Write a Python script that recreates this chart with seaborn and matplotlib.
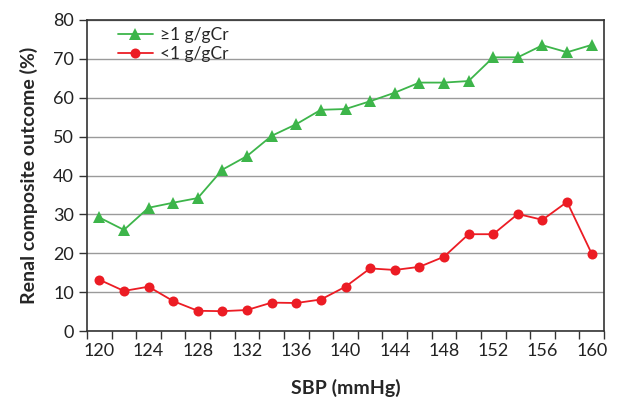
"""
Renal composite outcome by systolic blood pressure, split by proteinuria.
"""

import matplotlib
matplotlib.use("Agg")
import matplotlib.pyplot as plt
import numpy as np
import pandas as pd
import seaborn as sns

SBP = list(range(120, 162, 2))
HIGH_PROT = [29.2, 26.0, 31.7, 33.0, 34.2, 41.5, 45.0, 50.2, 53.2, 56.9, 57.1,
             59.1, 61.3, 63.9, 63.9, 64.3, 70.4, 70.4, 73.5, 71.7, 73.6]
LOW_PROT = [13.2, 10.3, 11.4, 7.7, 5.2, 5.1, 5.4, 7.3, 7.2, 8.1, 11.4,
            16.1, 15.7, 16.5, 19.1, 24.9, 24.9, 30.1, 28.6, 33.2, 19.9]
SERIES = ["≥1 g/gCr", "<1 g/gCr"]
TICK_LABELS = [str(v) for v in range(120, 162, 4)]

sns.set_theme(style="white")
plt.rcParams["font.family"] = ["Lato", "DejaVu Sans"]

df = pd.DataFrame({
    "pos": list(range(len(SBP))) * 2,
    "value": HIGH_PROT + LOW_PROT,
    "group": [SERIES[0]] * len(SBP) + [SERIES[1]] * len(SBP),
})

fig = plt.figure(figsize=(6.22, 4.0), dpi=100)
ax = fig.add_axes([87 / 622, 69 / 400, 517 / 622, 311 / 400])

sns.lineplot(data=df[df.group == SERIES[0]], x="pos", y="value",
             color="#3db54a", marker="^", markersize=8, markeredgewidth=0,
             linewidth=1.3, label=SERIES[0], ax=ax)
sns.lineplot(data=df[df.group == SERIES[1]], x="pos", y="value",
             color="#ec1c24", marker="o", markersize=7.2, markeredgewidth=0,
             linewidth=1.3, label=SERIES[1], ax=ax)

n = len(SBP)
ax.set_xlim(-0.5, n - 0.5)
ax.set_ylim(0, 80)
ax.set_yticks(range(0, 90, 10))
ax.yaxis.grid(True, color="#9a9a9a", linewidth=1.0)
ax.set_axisbelow(True)

# tick marks sit between categories, labels under every other point
ax.set_xticks(np.arange(-0.5, n, 1.0))
ax.set_xticklabels([])
ax.set_xticks(range(0, n, 2), minor=True)
ax.set_xticklabels(TICK_LABELS, minor=True)
ax.tick_params(axis="x", which="major", direction="out", length=6,
               width=1, color="#333333", bottom=True)
ax.tick_params(axis="x", which="minor", length=0, pad=9,
               labelsize=13, labelcolor="#222222")
ax.tick_params(axis="y", direction="out", length=6, width=1,
               color="#333333", left=True, labelsize=13, labelcolor="#222222")

for spine in ax.spines.values():
    spine.set_color("#333333")
    spine.set_linewidth(1.2)

ax.set_xlabel("SBP (mmHg)", fontsize=14, fontweight="bold", labelpad=14)
ax.set_ylabel("Renal composite outcome (%)", fontsize=14, fontweight="bold",
              labelpad=11)

ax.legend(loc="upper left", bbox_to_anchor=(0.04, 1.01), frameon=False,
          fontsize=12.5, handlelength=2.0, handletextpad=0.4,
          labelspacing=0.15, borderaxespad=0.2)

fig.savefig("out.png", dpi=100)
plt.close(fig)
